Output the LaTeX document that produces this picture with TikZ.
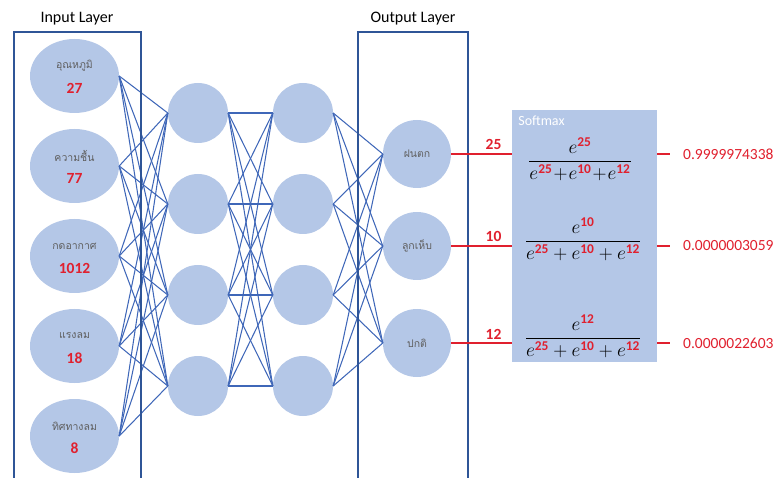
\documentclass[tikz,border=0pt]{standalone}
\usepackage{amsmath}
\usepackage{graphicx}
\usepackage{fontspec}
\setmainfont{Carlito}
\newfontfamily\thaifont[Script=Thai]{Loma}
\usetikzlibrary{calc, positioning, shapes.geometric}

\definecolor{boxblue}{HTML}{2F5597}
\definecolor{linkblue}{HTML}{3F67B8}
\definecolor{nodefill}{HTML}{B4C7E7}
\definecolor{valred}{HTML}{E0202E}
\definecolor{thaigrey}{HTML}{5F5F5F}

\tikzset{
    layerbox/.style={boxblue, line width=2.6pt},
    innode/.style={ellipse, fill=nodefill, minimum width=89pt, minimum height=74pt, inner sep=0pt},
    hidnode/.style={circle, fill=nodefill, minimum size=60pt, inner sep=0pt},
    outnode/.style={circle, fill=nodefill, minimum size=68pt, inner sep=0pt},
    link/.style={linkblue, line width=1.05pt},
    thailabel/.style={text=thaigrey, font=\thaifont\fontsize{10.5}{12}\selectfont},
    numlabel/.style={text=valred, font=\fontsize{15.5}{17}\selectfont\bfseries},
    redline/.style={valred, line width=1.3pt},
    result/.style={text=valred, font=\fontsize{15.5}{18}\selectfont, anchor=west, inner sep=0pt},
    fraclabel/.style={font=\fontsize{17.28}{20}\selectfont},
}

\newcommand{\rexp}[1]{\textcolor{valred}{\mathbf{#1}}}
\newcommand{\bigfrac}[1]{\scalebox{1.12}{$\dfrac#1$}}

\begin{document}
\begin{tikzpicture}[x=1pt, y=-1pt]

        \useasboundingbox (0,0) rectangle (779,478);

        % ==========================================
        % INPUT LAYER
        % ==========================================

        \node[font=\fontsize{16}{18}\selectfont] (intitle) at (77,19) {Input Layer};

        \node[innode] (in1) at (74.5,76) {};
        \node[innode] (in2) at (74.5,166) {};
        \node[innode] (in3) at (74.5,256) {};
        \node[innode] (in4) at (74.5,346) {};
        \node[innode] (in5) at (74.5,436) {};

        % Etichette e valori
        \node[thailabel] (lab1) at ([yshift=10]in1.center) {อุณหภูมิ};
        \node[numlabel] (num1) at ([yshift=-12]in1.center) {27};
        \node[thailabel] (lab2) at ([yshift=10]in2.center) {ความชื้น};
        \node[numlabel] (num2) at ([yshift=-12]in2.center) {77};
        \node[thailabel] (lab3) at ([yshift=10]in3.center) {กดอากาศ};
        \node[numlabel] (num3) at ([yshift=-12]in3.center) {1012};
        \node[thailabel] (lab4) at ([yshift=10]in4.center) {แรงลม};
        \node[numlabel] (num4) at ([yshift=-12]in4.center) {18};
        \node[thailabel] (lab5) at ([yshift=10]in5.center) {ทิศทางลม};
        \node[numlabel] (num5) at ([yshift=-12]in5.center) {8};

        % ==========================================
        % HIDDEN LAYERS
        % ==========================================

        \node[hidnode] (ha1) at (198,113) {};
        \node[hidnode] (ha2) at (198,204) {};
        \node[hidnode] (ha3) at (198,295) {};
        \node[hidnode] (ha4) at (198,386) {};

        \node[hidnode] (hb1) at (303,113) {};
        \node[hidnode] (hb2) at (303,204) {};
        \node[hidnode] (hb3) at (303,295) {};
        \node[hidnode] (hb4) at (303,386) {};

        % ==========================================
        % OUTPUT LAYER
        % ==========================================

        \node[font=\fontsize{16}{18}\selectfont] (outtitle) at (413,19) {Output Layer};

        \node[outnode] (out1) at (417,154) {};
        \node[outnode] (out2) at (417,246) {};
        \node[outnode] (out3) at (417,343) {};

        \node[thailabel] (olab1) at (out1) {ฝนตก};
        \node[thailabel] (olab2) at (out2) {ลูกเห็บ};
        \node[thailabel] (olab3) at (out3) {ปกติ};

        % ==========================================
        % COLLEGAMENTI
        % ==========================================

        \foreach \i in {1,...,5}
            \foreach \j in {1,...,4}
                \draw[link] (in\i.east) -- (ha\j.west);
        \foreach \i in {1,...,4}
            \foreach \j in {1,...,4}
                \draw[link] (ha\i.east) -- (hb\j.west);
        \foreach \i in {1,...,4}
            \foreach \j in {1,...,3}
                \draw[link] (hb\i.east) -- (out\j.west);

        % Riquadri dei layer (sopra i collegamenti)
        \draw[layerbox] (14,478) -- (14,32) -- (141,32) -- (141,478);
        \draw[layerbox] (358,478) -- (358,32) -- (468,32) -- (468,478);

        % ==========================================
        % SOFTMAX
        % ==========================================

        \node[fill=nodefill, minimum width=145pt, minimum height=252pt, inner sep=0pt] (soft) at (584.5,236) {};
        \node[text=white, font=\fontsize{14}{16}\selectfont, anchor=north west] (softtitle) at ([xshift=3,yshift=-3]soft.north west) {Softmax};

        \node[fraclabel] (frac1) at (580,159)
            {\bigfrac{{e^{\rexp{25}}}{e^{\rexp{25}}\!+\!e^{\rexp{10}}\!+\!e^{\rexp{12}}}}};
        \node[fraclabel] (frac2) at (583,239)
            {\bigfrac{{e^{\rexp{10}}}{e^{\rexp{25}}+e^{\rexp{10}}+e^{\rexp{12}}}}};
        \node[fraclabel] (frac3) at (583,336)
            {\bigfrac{{e^{\rexp{12}}}{e^{\rexp{25}}+e^{\rexp{10}}+e^{\rexp{12}}}}};

        % Uscite verso softmax
        \draw[redline] (out1.east) -- (out1 -| soft.west) node[midway, above, numlabel, xshift=12] (v1) {25};
        \draw[redline] (out2.east) -- (out2 -| soft.west) node[midway, above, numlabel, xshift=12] (v2) {10};
        \draw[redline] (out3.east) -- (out3 -| soft.west) node[midway, above, numlabel, xshift=12] (v3) {12};

        % Probabilita
        \node[result] (res1) at (683,154) {0.9999974338};
        \node[result] (res2) at (683,246) {0.0000003059};
        \node[result] (res3) at (683,343) {0.0000022603};

        \draw[redline] (res1.west -| soft.east) -- ([xshift=-13]res1.west);
        \draw[redline] (res2.west -| soft.east) -- ([xshift=-13]res2.west);
        \draw[redline] (res3.west -| soft.east) -- ([xshift=-13]res3.west);

    \end{tikzpicture}
\end{document}
